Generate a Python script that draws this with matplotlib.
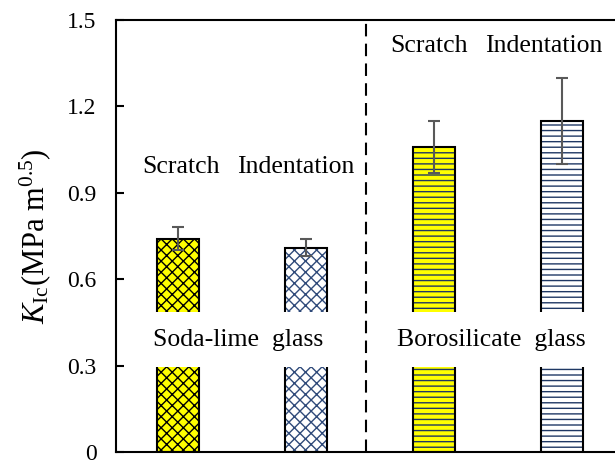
import matplotlib.pyplot as plt

plt.rcParams['font.family'] = 'Liberation Serif'
plt.rcParams['mathtext.fontset'] = 'custom'
plt.rcParams['mathtext.rm'] = 'Liberation Serif'
plt.rcParams['mathtext.it'] = 'Liberation Serif:italic'
plt.rcParams['hatch.linewidth'] = 1.0

# fracture toughness, two methods on two glasses
methods = ['Scratch', 'Indentation', 'Scratch', 'Indentation']
kic = [0.74, 0.71, 1.06, 1.15]
kic_err = [0.04, 0.03, 0.09, 0.15]
fills = ['#FFFF00', 'white', '#FFFF00', 'white']
hatches = ['xxx', 'xxx', '---', '---']
hatch_colors = ['black', '#2F4A7A', '#1F3864', '#1F3864']
glasses = ['Soda-lime  glass', 'Borosilicate  glass']

fig = plt.figure(figsize=(6.15, 4.63), dpi=100)
ax = fig.add_axes([116 / 615, 11 / 463, 499 / 615, 432 / 463])

x = list(range(len(kic)))
w = 0.33
# hatched fill first, then a plain black outline on top
ax.bar(x, kic, w, color=fills, edgecolor=hatch_colors, hatch=hatches, linewidth=0, zorder=2)
ax.bar(x, kic, w, fill=False, edgecolor='black', linewidth=1.5, zorder=3)
ax.errorbar(x, kic, yerr=kic_err, fmt='none', ecolor='#595959', elinewidth=1.5,
            capsize=4, capthick=1.5, zorder=4)

ax.axvline(1.466, color='black', linestyle=(0, (6, 3.5)), linewidth=1.5, zorder=1)

# method labels above each group
label_pos = [(0.02, 0.99), (0.92, 0.99), (1.96, 1.41), (2.86, 1.41)]
for name, (lx, ly) in zip(methods, label_pos):
    ax.text(lx, ly, name, ha='center', va='center', fontsize=18.5)

# glass names sit on white boxes across the bars
for gx, name in zip([0.47, 2.45], glasses):
    ax.text(gx, 0.39, name, ha='center', va='center', fontsize=18.5, zorder=5,
            bbox=dict(facecolor='white', edgecolor='none', pad=12))

ax.set_xlim(-0.484, 3.414)
ax.set_ylim(0, 1.5)
ax.set_yticks([0, 0.3, 0.6, 0.9, 1.2, 1.5])
ax.set_yticklabels(['0', '0.3', '0.6', '0.9', '1.2', '1.5'])
ax.set_xticks([])
ax.tick_params(axis='y', direction='in', length=6, width=1.5, labelsize=17, pad=14)
ax.spines['right'].set_visible(False)
for s in ['left', 'bottom', 'top']:
    ax.spines[s].set_linewidth(1.5)
ax.set_ylabel(r'$K_{\rm Ic}$(MPa m$^{0.5}$)', fontsize=22, labelpad=10)

plt.savefig('out.png', dpi=100)
